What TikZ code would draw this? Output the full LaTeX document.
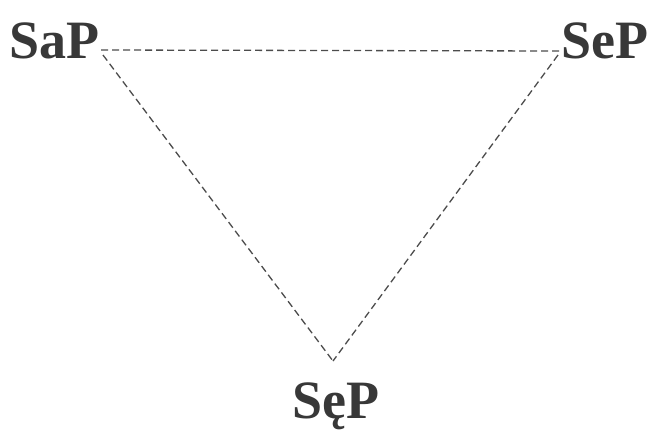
\documentclass[tikz,border=0pt]{standalone}
\usepackage{fontspec}
\setmainfont{Liberation Serif}
\begin{document}
\begin{tikzpicture}[x=1bp,y=-1bp,
  lbl/.style={font=\fontsize{54bp}{60bp}\selectfont\bfseries, text=black!78, inner sep=0pt, anchor=base west},
  edge/.style={draw=black!70, line width=1.3bp, dash pattern=on 7bp off 4bp}]
\useasboundingbox[fill=white] (0,0) rectangle (653,432);
\node[lbl] (sap) at (9,58) {SaP};
\node[lbl] (sep) at (561,58) {SeP};
\node[lbl] (sqp) at (292,418) {SęP};
\coordinate (va) at (101,50);
\coordinate (vb) at (561,51);
\coordinate (va2) at (103,55);
\coordinate (vb2) at (558,55);
\coordinate (vc) at (333,361);
\draw[edge] (va) -- (vb);
\draw[edge] (va2) -- (vc);
\draw[edge] (vb2) -- (vc);
\end{tikzpicture}
\end{document}
